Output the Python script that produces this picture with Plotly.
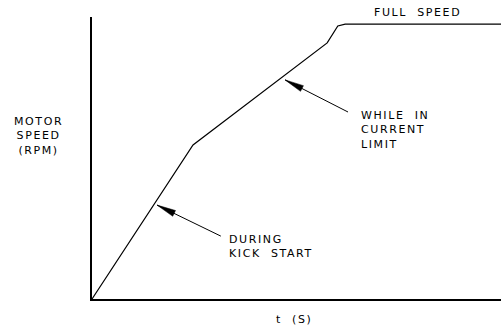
import math
import plotly.graph_objects as go

# Curve data (arbitrary units: time vs speed, % of axis)
t_vals = [0, 24.7, 57.5, 58.7, 60.1, 61.9, 100]
speed_vals = [0, 54.6, 90.8, 93.6, 96.8, 97.5, 97.5]

# Callout arrows (data units): tip on the curve, tail near the label
arrow_tip_x = [15.9, 47.2]
arrow_tip_y = [33.3, 77.7]
arrow_tail_x = [31.5, 62.6]
arrow_tail_y = [22.3, 66.3]
arrow_labels = ["DURING<br>KICK  START", "WHILE  IN<br>CURRENT<br>LIMIT"]

y_label = "MOTOR<br>SPEED<br>(RPM)"
x_label = "t  (S)"
top_label = "FULL  SPEED"

FONT = "DejaVu Sans"
W, H = 501, 328
ML, MR, MT, MB = 92, 0, 17, 29
PW, PH = W - ML - MR, H - MT - MB
XR, YR = [0, 100], [0, 100]


def styled(s):
    return '<span style="letter-spacing:1.6px">' + s + '</span>'


def to_px(x, y):
    return ((x - XR[0]) / (XR[1] - XR[0]) * PW, (y - YR[0]) / (YR[1] - YR[0]) * PH)


def to_data(px, py):
    return (XR[0] + px / PW * (XR[1] - XR[0]), YR[0] + py / PH * (YR[1] - YR[0]))


fig = go.Figure()
fig.add_trace(go.Scatter(x=t_vals, y=speed_vals, mode="lines",
                         line=dict(color="black", width=1.2),
                         hoverinfo="skip", showlegend=False))

HEAD_LEN, HEAD_HALF = 19, 3.2
for tx, ty, sx, sy in zip(arrow_tip_x, arrow_tip_y, arrow_tail_x, arrow_tail_y):
    # shaft
    fig.add_trace(go.Scatter(x=[sx, tx], y=[sy, ty], mode="lines",
                             line=dict(color="black", width=1),
                             hoverinfo="skip", showlegend=False))
    # filled narrow arrowhead computed in pixel space
    tpx, tpy = to_px(tx, ty)
    spx, spy = to_px(sx, sy)
    dx, dy = tpx - spx, tpy - spy
    L = math.hypot(dx, dy)
    ux, uy = dx / L, dy / L
    bx, by = tpx - ux * HEAD_LEN, tpy - uy * HEAD_LEN
    nx, ny = -uy, ux
    pts = [(tpx, tpy), (bx + nx * HEAD_HALF, by + ny * HEAD_HALF),
           (bx - nx * HEAD_HALF, by - ny * HEAD_HALF), (tpx, tpy)]
    dpts = [to_data(px, py) for px, py in pts]
    fig.add_trace(go.Scatter(x=[p[0] for p in dpts], y=[p[1] for p in dpts],
                             mode="lines", fill="toself", fillcolor="black",
                             line=dict(color="black", width=0.5),
                             hoverinfo="skip", showlegend=False))

FS = 11
label_pos = [(33.0, 18.6), (65.3, 60.1)]
for (lx, ly), lab in zip(label_pos, arrow_labels):
    fig.add_annotation(x=lx, y=ly, xref="x", yref="y", text=styled(lab),
                       showarrow=False, xanchor="left", yanchor="middle",
                       align="left",
                       font=dict(family=FONT, size=FS, color="black"))

fig.add_annotation(x=0.795, y=1.016, xref="paper", yref="paper", text=styled(top_label),
                   showarrow=False, xanchor="center", yanchor="middle",
                   font=dict(family=FONT, size=FS, color="black"))
fig.add_annotation(x=-0.131, y=0.578, xref="paper", yref="paper", text=styled(y_label),
                   showarrow=False, xanchor="center", yanchor="middle",
                   align="center",
                   font=dict(family=FONT, size=FS, color="black"))
fig.add_annotation(x=0.493, y=-0.074, xref="paper", yref="paper", text=styled(x_label),
                   showarrow=False, xanchor="center", yanchor="middle",
                   font=dict(family=FONT, size=FS, color="black"))

fig.update_xaxes(range=XR, showline=True, linecolor="black", linewidth=1.5,
                 showgrid=False, zeroline=False, showticklabels=False, ticks="")
fig.update_yaxes(range=YR, showline=True, linecolor="black", linewidth=1.5,
                 showgrid=False, zeroline=False, showticklabels=False, ticks="")
fig.update_layout(width=W, height=H,
                  margin=dict(l=ML, r=MR, t=MT, b=MB, autoexpand=False),
                  plot_bgcolor="white", paper_bgcolor="white")

fig.write_html("out.html", config={"displayModeBar": False},
               post_script="document.body.style.margin='0';document.body.style.overflow='hidden';")
